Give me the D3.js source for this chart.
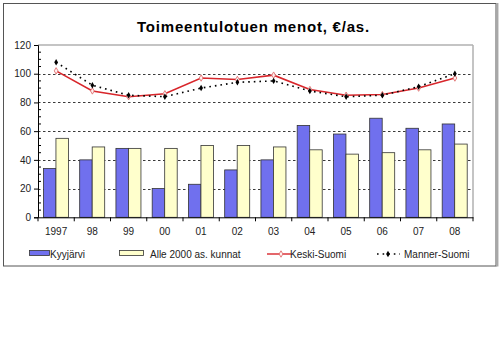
<!DOCTYPE html>
<html>
<head>
<meta charset="utf-8">
<script src="https://cdn.jsdelivr.net/npm/d3@7"></script>
<style>
  html, body { margin: 0; padding: 0; background: #fff; }
  svg { display: block; font-family: "Liberation Sans", Arial, sans-serif; }
</style>
</head>
<body>
<svg id="chart" width="500" height="341"></svg>
<script>
// Vuodet (x-akselin luokat)
const years = ["1997", "98", "99", "00", "01", "02", "03", "04", "05", "06", "07", "08"];

// Pylväät, €/asukas
const kyyjarvi = [34, 40, 48, 20, 23, 33, 40, 64, 58, 69, 62, 65];
const alle2000 = [55, 49, 48, 48, 50, 50, 49, 47, 44, 45, 47, 51];

// Viivat, €/asukas
const keskiSuomi = [102, 88, 84, 86, 97, 96, 99, 89, 85, 85.5, 90, 97];
const mannerSuomi = [108, 92, 85, 84, 90, 94, 95, 88, 84, 85, 91, 100];

const yTicks = [0, 20, 40, 60, 80, 100, 120];
const barSeries = ["Kyyjärvi", "Alle 2000 as. kunnat"];

const svg = d3.select("#chart");

// Kehys
svg.append("rect")
  .attr("x", 3.5).attr("y", 3.5).attr("width", 492.5).attr("height", 262.5)
  .attr("fill", "#fff").attr("stroke", "#555").attr("stroke-width", 1);
svg.append("line")
  .attr("x1", 497.2).attr("x2", 497.2).attr("y1", 3).attr("y2", 266.5)
  .attr("stroke", "#a8a8a8").attr("stroke-width", 2.5);

// Otsikko
svg.append("text")
  .attr("x", 253.5).attr("y", 31.5)
  .attr("text-anchor", "middle")
  .attr("font-size", 15).attr("font-weight", "bold")
  .attr("letter-spacing", 0.8)
  .attr("fill", "#000")
  .text("Toimeentulotuen menot, €/as.");

const plot = { left: 38, right: 473, top: 45, bottom: 217.3 };

const x = d3.scaleBand().domain(years).range([plot.left, plot.right]).padding(0);
const bw = x.bandwidth();
const xs = d3.scaleBand().domain(barSeries).range([bw * 0.15, bw * 0.84]).padding(0);
const y = d3.scaleLinear().domain([0, 120]).range([plot.bottom, plot.top]);

// Piirtoalueen reunat ylhäällä ja oikealla
svg.append("line")
  .attr("x1", plot.left).attr("x2", plot.right)
  .attr("y1", y(120)).attr("y2", y(120))
  .attr("stroke", "#b0b0b0").attr("stroke-width", 1.5);
svg.append("line")
  .attr("x1", plot.right).attr("x2", plot.right)
  .attr("y1", y(120)).attr("y2", y(0))
  .attr("stroke", "#b0b0b0").attr("stroke-width", 1.5);

// Katkoviivaiset apuviivat
svg.append("g")
  .selectAll("line")
  .data(yTicks.filter(d => d > 0 && d < 120))
  .join("line")
  .attr("x1", plot.left).attr("x2", plot.right)
  .attr("y1", d => Math.round(y(d)) + 0.5).attr("y2", d => Math.round(y(d)) + 0.5)
  .attr("stroke", "#222").attr("stroke-width", 0.9)
  .attr("stroke-dasharray", "2.5,2.5");

// Pylväät
const seriesData = [kyyjarvi, alle2000];
const barFill = ["#7070ee", "#ffffcc"];
seriesData.forEach((vals, si) => {
  svg.append("g")
    .selectAll("rect")
    .data(vals)
    .join("rect")
    .attr("x", (d, i) => x(years[i]) + xs(barSeries[si]))
    .attr("width", xs.bandwidth())
    .attr("y", d => y(d))
    .attr("height", d => y(0) - y(d))
    .attr("fill", barFill[si])
    .attr("stroke", "#333")
    .attr("stroke-width", 0.8);
});

// Akselit
const yAxis = d3.axisLeft(y).tickValues(yTicks).tickSize(4).tickPadding(3);
const gy = svg.append("g").attr("transform", `translate(${plot.left},0)`).call(yAxis);
gy.select(".domain").attr("stroke", "#000");
gy.selectAll(".tick line").attr("stroke", "#000");
gy.selectAll(".tick text").attr("font-size", 10).attr("fill", "#222")
  .attr("font-family", "Liberation Sans, Arial, sans-serif");

// Pienet sisäänpäin osoittavat väliviivat 5 yksikön välein
const minor = d3.range(5, 120, 5).filter(v => v % 20 !== 0);
svg.append("g").selectAll("line").data(minor).join("line")
  .attr("x1", plot.left).attr("x2", plot.left + 3)
  .attr("y1", d => y(d)).attr("y2", d => y(d))
  .attr("stroke", "#000").attr("stroke-width", 1);

const xAxis = d3.axisBottom(x).tickSize(0).tickPadding(11);
const gx = svg.append("g").attr("transform", `translate(0,${plot.bottom})`).call(xAxis);
gx.select(".domain").attr("stroke", "#000");
gx.selectAll(".tick text").attr("font-size", 10).attr("fill", "#222")
  .attr("font-family", "Liberation Sans, Arial, sans-serif");

// Luokkien väliset jakoviivat x-akselilla
svg.append("g").selectAll("line").data(years.concat(["_end"])).join("line")
  .attr("x1", (d, i) => plot.left + i * bw).attr("x2", (d, i) => plot.left + i * bw)
  .attr("y1", plot.bottom).attr("y2", plot.bottom + 4)
  .attr("stroke", "#000").attr("stroke-width", 1);

// Viivasarjat
const line = d3.line()
  .x((d, i) => x(years[i]) + bw / 2)
  .y(d => y(d));

svg.append("path")
  .datum(keskiSuomi)
  .attr("d", line)
  .attr("fill", "none")
  .attr("stroke", "#d8262b")
  .attr("stroke-width", 1.6);

const diamond = d3.symbol().type(d3.symbolDiamond);

svg.append("g").selectAll("path").data(keskiSuomi).join("path")
  .attr("d", diamond.size(12))
  .attr("transform", (d, i) => `translate(${x(years[i]) + bw / 2},${y(d)})`)
  .attr("fill", "#fff0f0")
  .attr("stroke", "#e07070").attr("stroke-width", 0.9);

svg.append("path")
  .datum(mannerSuomi)
  .attr("d", line)
  .attr("fill", "none")
  .attr("stroke", "#000")
  .attr("stroke-width", 1.6)
  .attr("stroke-dasharray", "1.6,4");

svg.append("g").selectAll("path").data(mannerSuomi).join("path")
  .attr("d", diamond.size(12))
  .attr("transform", (d, i) => `translate(${x(years[i]) + bw / 2},${y(d)})`)
  .attr("fill", "#000");

// Selite
const legendY = 254;
const legend = svg.append("g").attr("font-size", 10).attr("fill", "#222");

legend.append("rect").attr("x", 29.5).attr("y", legendY - 3.5).attr("width", 20).attr("height", 5)
  .attr("fill", barFill[0]).attr("stroke", "#333").attr("stroke-width", 0.8);
legend.append("text").attr("x", 50).attr("y", legendY + 3.5).text(barSeries[0]);

legend.append("rect").attr("x", 119.5).attr("y", legendY - 3.5).attr("width", 24).attr("height", 5)
  .attr("fill", barFill[1]).attr("stroke", "#333").attr("stroke-width", 0.8);
legend.append("text").attr("x", 150).attr("y", legendY + 3.5).text(barSeries[1]);

legend.append("line").attr("x1", 267).attr("x2", 291).attr("y1", legendY).attr("y2", legendY)
  .attr("stroke", "#d8262b").attr("stroke-width", 1.4);
legend.append("path").attr("d", diamond.size(12))
  .attr("transform", `translate(281,${legendY})`)
  .attr("fill", "#fff0f0").attr("stroke", "#e07070").attr("stroke-width", 0.9);
legend.append("text").attr("x", 290).attr("y", legendY + 3.5).text("Keski-Suomi");

legend.append("line").attr("x1", 377).attr("x2", 400).attr("y1", legendY).attr("y2", legendY)
  .attr("stroke", "#000").attr("stroke-width", 1.4).attr("stroke-dasharray", "1.6,4");
legend.append("path").attr("d", diamond.size(12))
  .attr("transform", `translate(388,${legendY})`)
  .attr("fill", "#000");
legend.append("text").attr("x", 404).attr("y", legendY + 3.5).text("Manner-Suomi");
</script>
</body>
</html>
